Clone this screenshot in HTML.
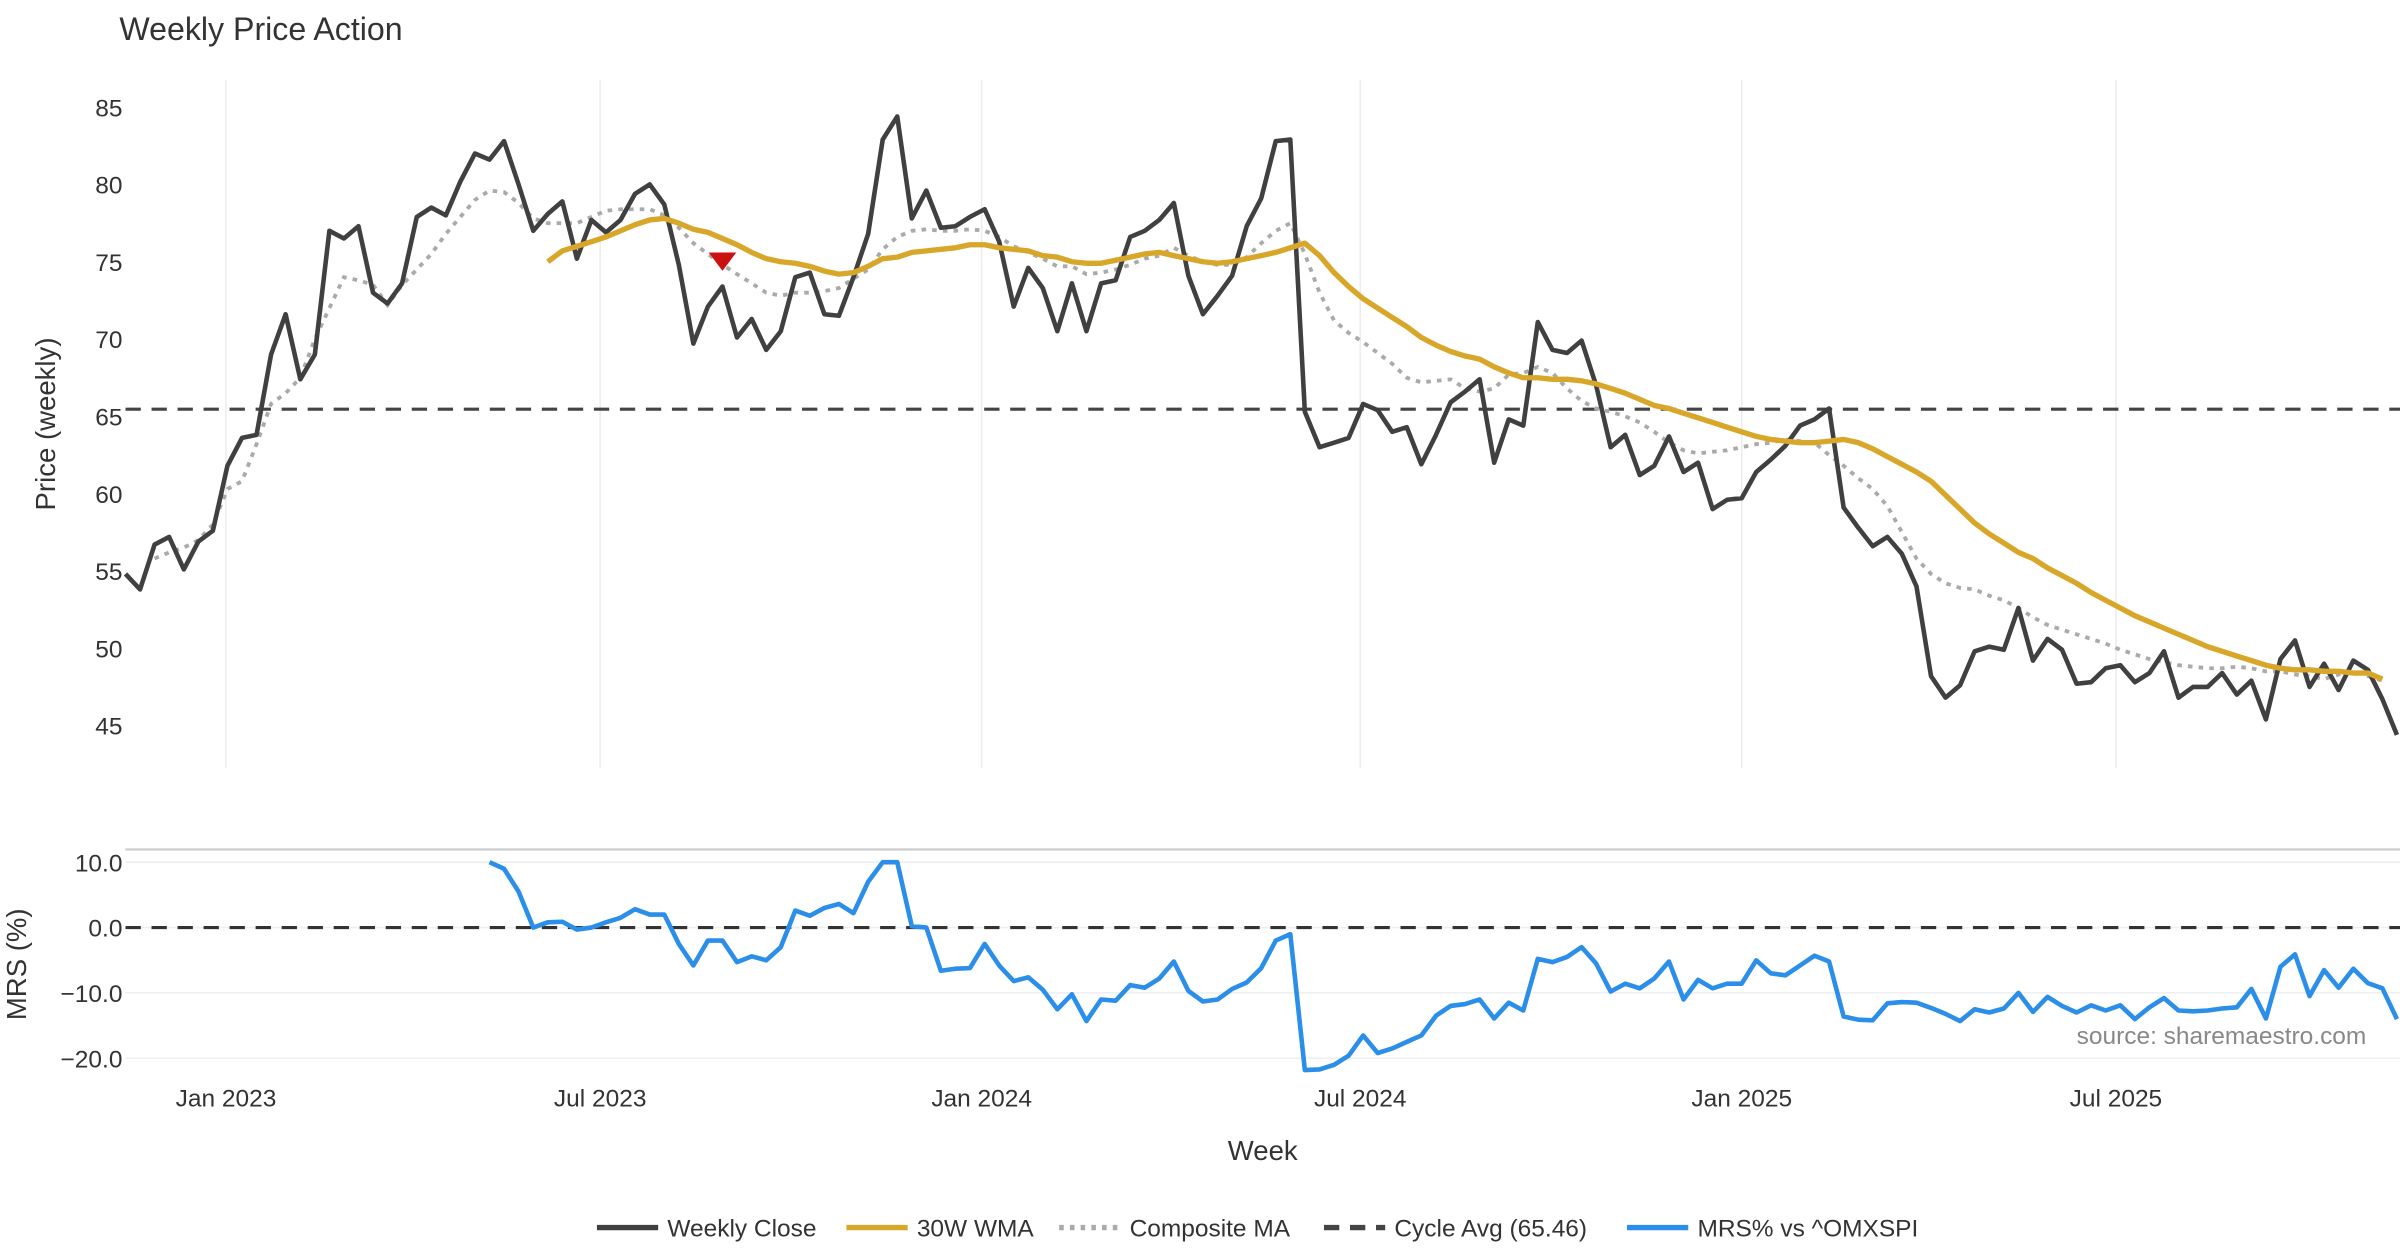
<!DOCTYPE html>
<html><head><meta charset="utf-8"><style>
html,body{margin:0;padding:0;background:#fff;}
svg{display:block;font-family:"Liberation Sans",sans-serif;}
</style></head><body>
<svg id="chart" width="2400" height="1260" viewBox="0 0 1568 823.2" xmlns="http://www.w3.org/2000/svg">
<text x="78" y="26" font-size="21" fill="#333">Weekly Price Action</text>
<g id="grid"></g>
<g id="top"></g>
<g id="bottom"></g>
<text transform="translate(36,277) rotate(-90)" text-anchor="middle" font-size="18" fill="#333">Price (weekly)</text>
<text transform="translate(17,630) rotate(-90)" text-anchor="middle" font-size="18" fill="#333">MRS (%)</text>
<text x="825" y="758" text-anchor="middle" font-size="18" fill="#333">Week</text>
<text x="1546" y="682" text-anchor="end" font-size="16" fill="#888">source: sharemaestro.com</text>
<g id="legend"></g>
</svg>
<script>
const closeVals=[54.8,53.8,56.7,57.2,55.1,56.9,57.6,61.8,63.6,63.8,69.0,71.6,67.4,69.0,77.0,76.5,77.3,73.0,72.3,73.6,77.9,78.5,78.0,80.2,82.0,81.6,82.8,80.0,77.0,78.1,78.9,75.2,77.7,76.9,77.7,79.4,80.0,78.7,74.8,69.7,72.1,73.4,70.1,71.3,69.3,70.5,74.0,74.3,71.6,71.5,74.0,76.8,82.9,84.4,77.8,79.6,77.2,77.3,77.9,78.4,76.3,72.1,74.6,73.3,70.5,73.6,70.5,73.6,73.8,76.6,77.0,77.7,78.8,74.1,71.6,72.8,74.1,77.3,79.1,82.8,82.9,65.3,63.0,63.3,63.6,65.8,65.4,64.0,64.3,61.9,63.8,65.9,66.6,67.4,62.0,64.8,64.4,71.1,69.3,69.1,69.9,67.0,63.0,63.8,61.2,61.8,63.7,61.4,62.0,59.0,59.6,59.7,61.4,62.2,63.1,64.4,64.8,65.5,59.1,57.8,56.6,57.2,56.1,54.0,48.2,46.8,47.6,49.8,50.1,49.9,52.6,49.2,50.6,49.9,47.7,47.8,48.7,48.9,47.8,48.4,49.8,46.8,47.5,47.5,48.4,47.0,47.9,45.4,49.3,50.5,47.5,49.0,47.3,49.2,48.6,46.7,44.4];
const wmaStart=29;
const wmaVals=[75.0,75.7,76.0,76.3,76.6,77.0,77.4,77.7,77.8,77.5,77.1,76.9,76.5,76.1,75.6,75.2,75.0,74.9,74.7,74.4,74.2,74.3,74.7,75.2,75.3,75.6,75.7,75.8,75.9,76.1,76.1,75.9,75.8,75.7,75.4,75.3,75.0,74.9,74.9,75.1,75.3,75.5,75.6,75.4,75.2,75.0,74.9,75.0,75.2,75.4,75.6,75.9,76.2,75.4,74.3,73.4,72.6,72.0,71.4,70.8,70.1,69.6,69.2,68.9,68.7,68.2,67.8,67.5,67.5,67.4,67.4,67.3,67.1,66.8,66.5,66.1,65.7,65.5,65.2,64.9,64.6,64.3,64.0,63.7,63.5,63.4,63.3,63.3,63.4,63.5,63.3,62.9,62.4,61.9,61.4,60.8,59.9,59.0,58.1,57.4,56.8,56.2,55.8,55.2,54.7,54.2,53.6,53.1,52.6,52.1,51.7,51.3,50.9,50.5,50.1,49.8,49.5,49.2,48.9,48.7,48.6,48.6,48.5,48.5,48.4,48.4,48.0];
const compStart=2;
const compVals=[55.8,56.2,56.5,57.0,58.0,60.3,60.8,63.2,65.8,66.5,67.5,70.0,72.0,74.0,73.8,73.5,72.2,73.5,74.5,75.5,76.8,77.9,79.0,79.6,79.5,78.8,77.8,77.5,77.5,77.5,77.9,78.3,78.4,78.4,78.4,78.0,77.2,76.2,75.5,74.8,74.2,73.6,73.0,72.8,73.0,73.0,73.1,73.3,73.9,74.5,75.8,76.6,77.0,77.1,77.0,77.0,77.1,77.0,76.6,76.0,75.6,75.2,74.7,74.7,74.2,74.3,74.5,74.8,75.2,75.4,75.9,75.4,75.0,74.8,74.8,75.3,76.2,77.0,77.5,75.5,73.0,71.2,70.4,69.8,69.1,68.4,67.5,67.2,67.3,67.4,66.8,66.6,66.8,67.7,67.8,68.2,67.8,66.8,66.0,65.5,65.3,65.0,64.6,64.0,63.3,62.8,62.6,62.7,62.8,63.0,63.2,63.3,63.5,63.4,63.3,62.5,61.8,61.0,60.3,59.2,57.5,55.8,54.8,54.2,53.9,53.8,53.4,53.1,52.6,52.0,51.5,51.2,50.9,50.6,50.3,49.9,49.6,49.3,49.1,48.9,48.8,48.7,48.7,48.8,48.7,48.5,48.5,48.3,48.2,48.0,48.3,48.5,48.2,47.9];
const mrsStart=25;
const mrsVals=[10.0,9.0,5.5,0.0,0.8,0.9,-0.3,0.0,0.8,1.5,2.8,2.0,2.0,-2.5,-5.8,-2.0,-2.0,-5.3,-4.4,-5.0,-3.0,2.6,1.8,3.0,3.6,2.2,7.0,10.0,10.0,0.2,0.0,-6.6,-6.3,-6.2,-2.5,-5.8,-8.2,-7.6,-9.5,-12.5,-10.2,-14.3,-11.0,-11.2,-8.8,-9.2,-7.8,-5.2,-9.7,-11.3,-11.0,-9.4,-8.4,-6.2,-2.0,-1.0,-21.8,-21.7,-21.0,-19.6,-16.5,-19.2,-18.5,-17.5,-16.5,-13.5,-12.0,-11.7,-11.0,-13.9,-11.5,-12.7,-4.8,-5.3,-4.5,-3.0,-5.5,-9.8,-8.6,-9.3,-7.8,-5.2,-11.0,-8.0,-9.3,-8.6,-8.6,-5.0,-7.0,-7.3,-5.8,-4.3,-5.2,-13.6,-14.1,-14.2,-11.6,-11.4,-11.5,-12.3,-13.2,-14.3,-12.5,-13.0,-12.4,-10.0,-12.9,-10.6,-12.0,-13.0,-11.9,-12.7,-11.9,-14.0,-12.2,-10.8,-12.7,-12.8,-12.7,-12.4,-12.2,-9.4,-13.9,-6.0,-4.1,-10.5,-6.5,-9.2,-6.3,-8.5,-9.3,-14.0];
const priceTicks=[85,80,75,70,65,60,55,50,45];
const mrsTicks=[10,0,-10,-20];
const mrsTickLabels=["10.0","0.0","\u221210.0","\u221220.0"];
const monthLabels=["Jan 2023","Jul 2023","Jan 2024","Jul 2024","Jan 2025","Jul 2025"];
const monthIdx=[6.9,32.6,58.8,84.8,111.0,136.7];
const cycleAvg=65.46;
const signalIdx=41; const signalVal=75.0;

const NS="http://www.w3.org/2000/svg";
const n=closeVals.length;
const x0=82,x1=1566;
const xs=i=>x0+i*(x1-x0)/(n-1);
const yp=v=>70+(85-v)*10.1;
const ym=v=>606-v*4.27;
function mk(tag,attrs,parent){const e=document.createElementNS(NS,tag);for(const k in attrs)e.setAttribute(k,attrs[k]);parent.appendChild(e);return e;}
const grid=document.getElementById('grid'),top_=document.getElementById('top'),bot=document.getElementById('bottom'),leg=document.getElementById('legend');
monthIdx.forEach((mi,k)=>{
  const gl=mk('line',{x1:xs(mi),x2:xs(mi),y1:52,y2:502,stroke:'#ececec','stroke-width':1},grid);
  
  
  const t=mk('text',{x:xs(mi),y:723,'text-anchor':'middle','font-size':16,fill:'#333'},grid);t.textContent=monthLabels[k];
  
  
});
priceTicks.forEach(v=>{
  const t=mk('text',{x:80,y:yp(v)+6,'text-anchor':'end','font-size':16,fill:'#333'},grid);t.textContent=v;
  
  
});
const sep=mk('line',{x1:82,x2:1568,y1:555,y2:555,stroke:'#ccc','stroke-width':1.5},grid);


mrsTicks.forEach((v,k)=>{
  const gl=mk('line',{x1:82,x2:1568,y1:ym(v),y2:ym(v),stroke:'#eceff2','stroke-width':1},grid);
  
  
  const t=mk('text',{x:80,y:ym(v)+6,'text-anchor':'end','font-size':16,fill:'#333'},grid);t.textContent=mrsTickLabels[k];
  
  
});
function pts(vals,start,yf){return vals.map((v,j)=>[start+j,v]).filter(p=>p[0]<n).map(p=>xs(p[0]).toFixed(1)+','+yf(p[1]).toFixed(1)).join(' ');}
const ca=mk('line',{x1:82,x2:1568,y1:yp(cycleAvg),y2:yp(cycleAvg),stroke:'#444','stroke-width':2,'stroke-dasharray':'10,7'},top_);


const cm=mk('polyline',{points:pts(compVals,compStart,yp),fill:'none',stroke:'#aaa','stroke-width':2.5,'stroke-dasharray':'3,4'},top_);


const cl=mk('polyline',{points:pts(closeVals,0,yp),fill:'none',stroke:'#404040','stroke-width':3,'stroke-linejoin':'round'},top_);


const wm=mk('polyline',{points:pts(wmaVals,wmaStart,yp),fill:'none',stroke:'#d8a72a','stroke-width':3.5,'stroke-linejoin':'round'},top_);


const sx=xs(signalIdx),sy=yp(signalVal);
const tri=mk('polygon',{points:`${sx-9},${sy-6} ${sx+9},${sy-6} ${sx},${sy+6}`,fill:'#cc1111'},top_);


const zl=mk('line',{x1:82,x2:1568,y1:ym(0),y2:ym(0),stroke:'#333','stroke-width':2,'stroke-dasharray':'10,7'},bot);


const ml=mk('polyline',{points:pts(mrsVals,mrsStart,ym),fill:'none',stroke:'#2b8ee8','stroke-width':3,'stroke-linejoin':'round'},bot);


const items=[["Weekly Close","#404040",""],["30W WMA","#d8a72a",""],["Composite MA","#aaa","3,4"],["Cycle Avg (65.46)","#444","10,7"],["MRS% vs ^OMXSPI","#2b8ee8",""]];
const lx=[390,553,692,865,1063];
items.forEach((it,k)=>{
  const g=mk('g',{},leg);
  
  
  mk('line',{x1:lx[k],x2:lx[k]+40,y1:802,y2:802,stroke:it[1],'stroke-width':3.5,'stroke-dasharray':it[2]},g);
  const t=mk('text',{x:lx[k]+46,y:808,'font-size':16,fill:'#333'},g);t.textContent=it[0];
});
</script>
</body></html>
